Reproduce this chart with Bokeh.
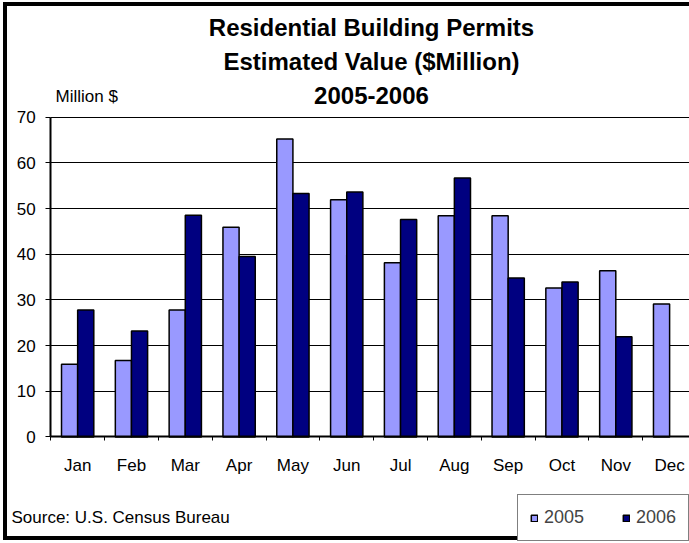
import numpy as np
from bokeh.plotting import figure
from bokeh.models import Range1d, FixedTicker, Label, Legend, LegendItem, ColumnDataSource
from bokeh.embed import file_html
from bokeh.resources import INLINE

months = ["Jan", "Feb", "Mar", "Apr", "May", "Jun", "Jul", "Aug", "Sep", "Oct", "Nov", "Dec"]
v2005 = [15.9, 16.7, 27.8, 45.9, 65.2, 51.9, 38.1, 48.4, 48.4, 32.6, 36.4, 29.1]
v2006 = [27.8, 23.2, 48.5, 39.5, 53.3, 53.6, 47.6, 56.7, 34.8, 33.9, 21.9]
y_ticks = [0, 10, 20, 30, 40, 50, 60, 70]
series_names = ["2005", "2006"]
colors = ["#9999FF", "#000080"]

FONT = "Liberation Sans"

# canvas layout (pixels)
W, H = 682, 530
FRAME_L, FRAME_T, FRAME_B = 43, 109, 424
CAT_W = 53.5
ymax = y_ticks[-1]
px_per_unit = (FRAME_B - FRAME_T) / ymax

x_start = -FRAME_L / CAT_W
x_end = (W - FRAME_L) / CAT_W
y_end = ymax + FRAME_T / px_per_unit
y_start = -(H - FRAME_B) / px_per_unit

idx = np.arange(len(months))
centers = idx + 0.5

src05 = ColumnDataSource(dict(x=(centers - 0.15).tolist(), top=v2005))
src06 = ColumnDataSource(dict(x=(centers[:len(v2006)] + 0.15).tolist(), top=v2006))

p = figure(width=W, height=H, x_range=Range1d(x_start, x_end), y_range=Range1d(y_start, y_end),
           output_backend="svg", toolbar_location=None, title=None,
           min_border=0, min_border_left=0, min_border_top=0, min_border_bottom=0, min_border_right=0)
p.styles = {"box-sizing": "content-box",
            "border-left": "4px solid black", "border-top": "4px solid black",
            "border-bottom": "4px solid black",
            "margin-left": "3px", "margin-top": "2px"}
p.outline_line_color = None
p.background_fill_color = "white"
p.border_fill_color = "white"

r1 = p.vbar(x="x", top="top", width=0.3, bottom=0, source=src05,
            fill_color=colors[0], line_color="black", line_width=1.5)
r2 = p.vbar(x="x", top="top", width=0.3, bottom=0, source=src06,
            fill_color=colors[1], line_color="black", line_width=1.5)

# x axis, pinned at y = 0
xa = p.xaxis[0]
xa.fixed_location = 0
xa.bounds = (0, len(months))
xa.ticker = FixedTicker(ticks=centers.tolist(), minor_ticks=list(range(len(months) + 1)))
xa.major_label_overrides = {float(c): m for c, m in zip(centers, months)}
xa.major_tick_out = 0
xa.major_tick_in = 0
xa.minor_tick_out = 4
xa.minor_tick_in = 0
xa.minor_tick_line_color = "black"
xa.axis_line_color = "black"
xa.axis_line_width = 2
xa.major_label_text_font = FONT
xa.major_label_text_font_size = "17px"
xa.major_label_text_color = "black"
xa.major_label_standoff = 15

# y axis, pinned at x = 0
ya = p.yaxis[0]
ya.fixed_location = 0
ya.bounds = (0, ymax)
ya.ticker = FixedTicker(ticks=y_ticks)
ya.major_tick_out = 5
ya.major_tick_in = 0
ya.minor_tick_line_color = None
ya.axis_line_color = "black"
ya.axis_line_width = 2
ya.major_label_text_font = FONT
ya.major_label_text_font_size = "17px"
ya.major_label_text_color = "black"
ya.major_label_standoff = 10

p.xgrid.grid_line_color = None
p.ygrid.ticker = FixedTicker(ticks=y_ticks)
p.ygrid.grid_line_color = "black"
p.ygrid.grid_line_width = 1
try:
    p.ygrid.cross_bounds = (0, len(months))
except Exception:
    p.ygrid.grid_line_color = None
    p.segment(x0=[0] * len(y_ticks), x1=[len(months)] * len(y_ticks), y0=y_ticks, y1=y_ticks,
              line_color="black", line_width=1)

# titles and notes (canvas pixel units, top-down)
for txt, yy in [("Residential Building Permits", 17), ("Estimated Value ($Million)", 51), ("2005-2006", 85)]:
    p.add_layout(Label(x=360, y=yy, x_units="canvas", y_units="canvas", text=txt,
                       text_font=FONT, text_font_size="24px", text_font_style="bold",
                       text_align="center", text_baseline="middle", text_color="black"))
p.add_layout(Label(x=44, y=86, x_units="canvas", y_units="canvas", text="Million $",
                   text_font=FONT, text_font_size="17px", text_align="left",
                   text_baseline="middle", text_color="black"))
p.add_layout(Label(x=0, y=507, x_units="canvas", y_units="canvas", text="Source: U.S. Census Bureau",
                   text_font=FONT, text_font_size="17px", text_align="left",
                   text_baseline="middle", text_color="black"))

legend = Legend(items=[LegendItem(label=series_names[0], renderers=[r1]),
                       LegendItem(label=series_names[1], renderers=[r2])],
                location=(510, 3), orientation="horizontal",
                border_line_color="black", border_line_width=1,
                background_fill_color="white", background_fill_alpha=1,
                label_text_font=FONT, label_text_font_size="18px",
                glyph_width=8, glyph_height=8, padding=12, spacing=38,
                label_standoff=6, margin=0)
p.add_layout(legend, "center")

open("out.html", "w").write(file_html(p, INLINE))
